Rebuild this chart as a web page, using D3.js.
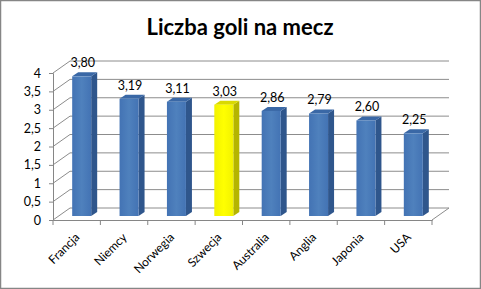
<!DOCTYPE html>
<html><head><meta charset="utf-8">
<script src="https://cdn.jsdelivr.net/npm/d3@7"></script>
<style>html,body{margin:0;padding:0;background:#fff;}svg{display:block;}</style>
</head><body>
<script>
const title = "Liczba goli na mecz";
const categories = ["Francja","Niemcy","Norwegia","Szwecja","Australia","Anglia","Japonia","USA"];
const values = [3.80,3.19,3.11,3.03,2.86,2.79,2.60,2.25];
const highlight = ["Szwecja"];
const yTicks = [0,0.5,1,1.5,2,2.5,3,3.5,4];

const W = 481, H = 289;
const svg = d3.select("body").append("svg").attr("width", W).attr("height", H);
const font = "Lato, 'Liberation Sans', sans-serif";
const fmt = v => d3.format(".2f")(v).replace(".", ",");
const yFmt = v => String(v).replace(".", ",");

// border
svg.append("rect").attr("x",0.5).attr("y",0.5).attr("width",W-1).attr("height",H-1)
  .attr("fill","#fff").attr("stroke","#868686").attr("stroke-width",1.5);

svg.append("text").attr("x",240).attr("y",35).attr("text-anchor","middle")
  .attr("font-family",font).attr("font-weight","bold").attr("font-size",22).attr("fill","#000").text(title);

// geometry
const x = d3.scaleBand().domain(categories).range([53,432]);
const yFront = d3.scaleLinear().domain([0,4]).range([220,73]);
const DX = 17, DY = -12;               // wall depth
const yBar = d3.scaleLinear().domain([0,4]).range([216,69]);
const bdx = 6, bdy = -4;               // bar depth

const grid = "#8c8c8c";
const g = svg.append("g");
yTicks.forEach(t => {
  const yf = yFront(t);
  g.append("line").attr("x1",53+DX).attr("x2",432+DX).attr("y1",yf+DY).attr("y2",yf+DY)
    .attr("stroke",grid).attr("stroke-width",1);
  g.append("line").attr("x1",53).attr("y1",yf).attr("x2",53+DX).attr("y2",yf+DY)
    .attr("stroke",grid).attr("stroke-width",1);
});
g.append("line").attr("x1",432).attr("y1",yFront(0)).attr("x2",432+DX).attr("y2",yFront(0)+DY)
  .attr("stroke",grid);

// axes (front)
const yAxis = d3.axisLeft(yFront).tickValues(yTicks).tickFormat(yFmt).tickSize(4).tickPadding(8);
const ya = svg.append("g").attr("transform","translate(53,0)").call(yAxis);
ya.select(".domain").attr("stroke","#868686");
ya.selectAll(".tick line").attr("stroke","#868686");
ya.selectAll("text").attr("font-family",font).attr("font-size",12.5).attr("fill","#000");

const xAxis = d3.axisBottom(x).tickSize(0).tickFormat("");
const xa = svg.append("g").attr("transform",`translate(0,${yFront(0)})`).call(xAxis);
xa.select(".domain").attr("stroke","#868686");
const bounds = categories.map(c => x(c)).concat([x.range()[1]]);
xa.selectAll(".bt").data(bounds).enter().append("line").attr("x1",d=>d).attr("x2",d=>d)
  .attr("y1",0).attr("y2",5).attr("stroke","#868686");
xa.selectAll(".lbl").data(categories).enter().append("text")
  .attr("transform", d => `translate(${x(d)+x.bandwidth()/2+3.5},18) rotate(-45)`)
  .attr("text-anchor","end").attr("font-family",font).attr("font-size",12).attr("fill","#000")
  .text(d => d);

// bars
const defs = svg.append("defs");
function grad(id, c1, c2){
  const lg = defs.append("linearGradient").attr("id",id).attr("x1","0").attr("x2","1").attr("y1","0").attr("y2","0");
  lg.append("stop").attr("offset","0").attr("stop-color",c1);
  lg.append("stop").attr("offset","0.5").attr("stop-color",c2);
  lg.append("stop").attr("offset","1").attr("stop-color",c1);
}
grad("gb","#4373B4","#4F81BD");
grad("gy","#F2F200","#FFFF00");

const bw = 19;
const bars = svg.append("g").selectAll("g").data(categories).enter().append("g");
bars.each(function(c,i){
  const s = d3.select(this);
  const hl = highlight.includes(c);
  const x0 = x(c) + x.bandwidth()/2 + 5 - bw/2;
  const yt = yBar(values[i]), yb = yBar(0);
  const side = hl ? "#B5B500" : "#2F568C";
  const top = hl ? "#D9D900" : "#3A68A6";
  s.append("path").attr("d",`M${x0+bw},${yt}L${x0+bw+bdx},${yt+bdy}L${x0+bw+bdx},${yb+bdy}L${x0+bw},${yb}Z`).attr("fill",side);
  s.append("path").attr("d",`M${x0},${yt}L${x0+bdx},${yt+bdy}L${x0+bw+bdx},${yt+bdy}L${x0+bw},${yt}Z`).attr("fill",top);
  s.append("rect").attr("x",x0).attr("y",yt).attr("width",bw).attr("height",yb-yt).attr("fill",hl?"url(#gy)":"url(#gb)");
  s.append("text").attr("x",x0+bw/2+1).attr("y",yt-9).attr("text-anchor","middle")
    .attr("font-family",font).attr("font-size",12.5).attr("fill","#000").text(fmt(values[i]));
});
</script>
</body></html>
